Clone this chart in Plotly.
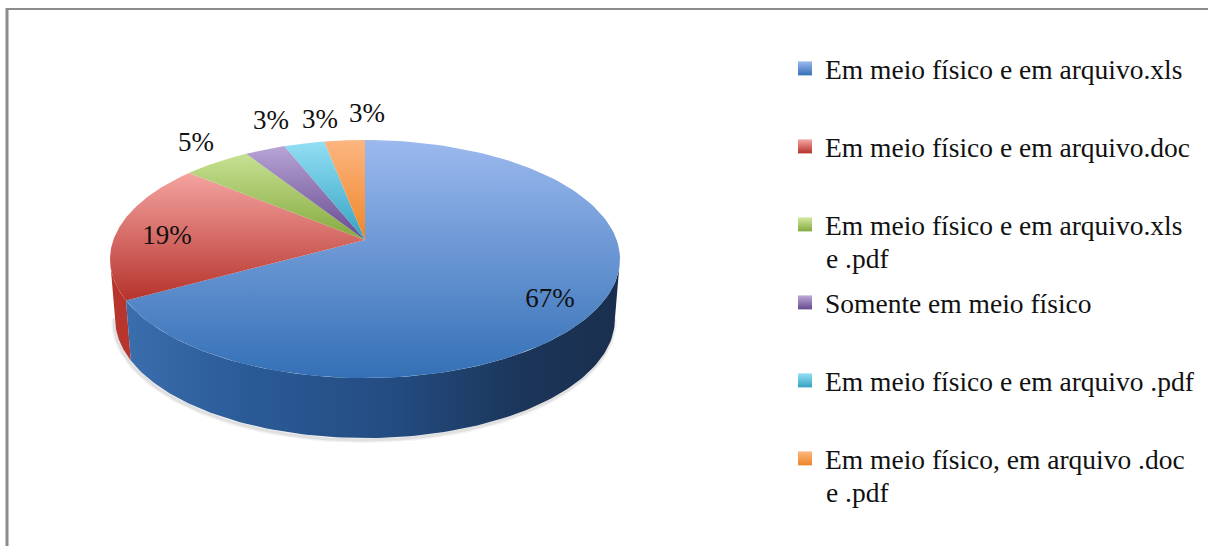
import math
import plotly.graph_objects as go

# ---- data ----
categories = [
    "Em meio físico e em arquivo.xls",
    "Em meio físico e em arquivo.doc",
    "Em meio físico e em arquivo.xls<br>e .pdf",
    "Somente em meio físico",
    "Em meio físico e em arquivo .pdf",
    "Em meio físico, em arquivo .doc<br>e .pdf",
]
values = [67, 19, 5, 3, 3, 3]
labels = ["67%", "19%", "5%", "3%", "3%", "3%"]

# ---- styling ----
top_colors = [
    ["#9bb9ee", "#3470b6"],
    ["#f6a6a3", "#b5322b"],
    ["#d2eaa0", "#84a93e"],
    ["#bdaad9", "#65498f"],
    ["#93e0f5", "#35a2c2"],
    ["#fcb680", "#ee8629"],
]
gradient_start = [140, 170, 140, 140, 140, 140]
gradient_stop = [378, 302, 240, 240, 240, 240]
legend_light = ["#9bb9ee", "#f6a6a3", "#d2eaa0", "#bdaad9", "#93e0f5", "#fcb680"]
legend_dark = ["#3470b6", "#b5322b", "#84a93e", "#65498f", "#35a2c2", "#ee8629"]
label_xy = [(550, 300), (167, 237), (196, 144), (271, 122), (320, 121), (367, 115)]
legend_y = [44, 122, 200, 278, 356, 434]
second_line_y = {2: 258, 5: 492}

FONT = "Liberation Serif"
CX, CY = 365, 240      # apex of the slices in the picture
K, A, B = 0.16, 116.0, 251.7   # perspective of the pie disc
DEPTH = 60


def rim(theta, lower=False):
    s, c = math.sin(theta), math.cos(theta)
    w = 1 + K * c
    x, y = -B * s / w, -A * c / w
    if lower:
        return CX + x * 0.98, CY + y + DEPTH
    return CX + x, CY + y


def arc(t0, t1, lower=False, n=120):
    pts = [rim(t0 + (t1 - t0) * i / n, lower) for i in range(n + 1)]
    return [p[0] for p in pts], [p[1] for p in pts]


total = sum(values)
cum = [0]
for v in values:
    cum.append(cum[-1] + v)
# the first slice runs clockwise from 12 o'clock
ang = [-2 * math.pi * c / total for c in cum]

fig = go.Figure()

# soft shadow under the disc
sx, sy = arc(math.radians(-262), math.radians(-98), True)
for width, alpha in [(6, 0.07), (3, 0.12)]:
    fig.add_trace(go.Scatter(x=[a - 1 for a in sx], y=[b + 2 for b in sy], mode="lines",
                             line=dict(color=f"rgba(90,90,90,{alpha})", width=width),
                             showlegend=False, hoverinfo="skip"))

# side wall (front of the disc): red part, then blue part
right_edge = math.radians(-99.2)
left_edge = math.radians(-260.8)
boundary = ang[1]
x1, y1 = arc(boundary, left_edge)
x2, y2 = arc(boundary, left_edge, True)
fig.add_trace(go.Scatter(x=x1 + x2[::-1], y=y1 + y2[::-1], mode="lines", fill="toself",
                         line=dict(width=0), fillcolor="#b8352d",
                         showlegend=False, hoverinfo="skip"))
x1, y1 = arc(right_edge, boundary)
x2, y2 = arc(right_edge, boundary, True)
fig.add_trace(go.Scatter(x=x1 + x2[::-1], y=y1 + y2[::-1], mode="lines", fill="toself",
                         line=dict(width=0),
                         fillgradient=dict(type="horizontal", start=130, stop=620,
                                           colorscale=[[0, "#3a6dac"], [0.25, "#2a5a96"],
                                                       [0.55, "#234b80"], [0.8, "#1b3559"],
                                                       [1, "#1a2f4f"]]),
                         showlegend=False, hoverinfo="skip"))

# top faces
for i, name in enumerate(categories):
    xs, ys = arc(ang[i], ang[i + 1])
    xs = [CX] + xs + [CX]
    ys = [CY] + ys + [CY]
    fig.add_trace(go.Scatter(x=xs, y=ys, mode="lines", fill="toself", line=dict(width=0),
                             fillgradient=dict(type="vertical", start=gradient_start[i],
                                               stop=gradient_stop[i],
                                               colorscale=[[0, top_colors[i][0]],
                                                           [1, top_colors[i][1]]]),
                             showlegend=False, name=name.replace("<br>", " "),
                             text=f"{values[i]}%", hoverinfo="name+text"))

# percentage labels
fig.add_trace(go.Scatter(x=[p[0] for p in label_xy], y=[p[1] for p in label_xy],
                         mode="text", text=labels,
                         textfont=dict(family=FONT, size=27, color="#111111"),
                         showlegend=False, hoverinfo="skip"))

# legend: one entry per slice, each at its own position
layout_legends = {}
annotations = []
for i, name in enumerate(categories):
    key = "legend" if i == 0 else f"legend{i + 1}"
    parts = name.split("<br>")
    fig.add_trace(go.Scatter(x=[None], y=[None], mode="markers", name=parts[0], legend=key,
                             marker=dict(symbol="square", size=14, color=legend_light[i],
                                         gradient=dict(type="vertical", color=legend_dark[i])),
                             showlegend=True))
    layout_legends[key] = dict(x=785 / 1208, y=1 - legend_y[i] / 546,
                               xanchor="left", yanchor="top",
                               bgcolor="rgba(0,0,0,0)", borderwidth=0,
                               font=dict(family=FONT, size=27.5, color="#111111"),
                               itemclick=False, itemdoubleclick=False)
    if len(parts) > 1:
        annotations.append(dict(x=825, y=second_line_y[i], xref="x", yref="y", text=parts[1],
                                showarrow=False, xanchor="left", yanchor="middle",
                                xshift=-1, font=dict(family=FONT, size=27.5, color="#111111")))

fig.update_layout(
    width=1208, height=546, margin=dict(l=0, r=0, t=0, b=0),
    paper_bgcolor="white", plot_bgcolor="white",
    xaxis=dict(range=[0, 1208], visible=False, fixedrange=True),
    yaxis=dict(range=[546, 0], visible=False, fixedrange=True),
    annotations=annotations,
    shapes=[
        dict(type="line", xref="paper", yref="paper", x0=7 / 1208, x1=7 / 1208, y0=0, y1=1 - 8 / 546,
             line=dict(color="#8c8c8c", width=3)),
        dict(type="line", xref="paper", yref="paper", x0=6 / 1208, x1=1, y0=1 - 9 / 546, y1=1 - 9 / 546,
             line=dict(color="#8c8c8c", width=2)),
    ],
    **layout_legends,
)

fig.write_html("out.html", post_script="document.body.style.margin='0';",
               config={"displayModeBar": False})
